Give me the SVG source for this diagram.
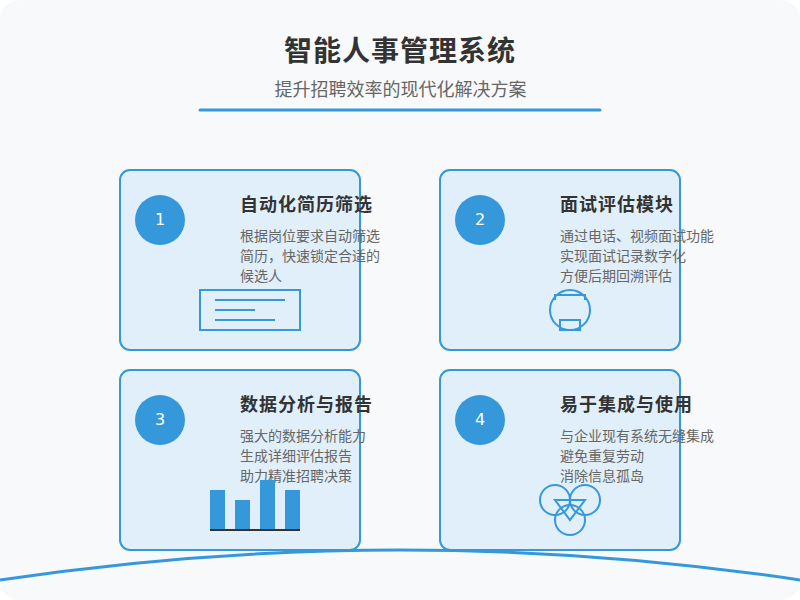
<svg xmlns="http://www.w3.org/2000/svg" width="800" height="600" viewBox="0 0 800 600">
<style>
text{font-family:"Liberation Sans","Noto Sans CJK SC",sans-serif}
.card{fill:#e1effb;stroke:#3498db;stroke-width:2}
.badge{fill:#3498db}
.num{fill:#fff;font-size:16px;text-anchor:middle;font-family:"DejaVu Sans",sans-serif}
.h{fill:#333;font-size:18px;font-weight:700;letter-spacing:1px}
.b{fill:#666;font-size:14px}
.ln{fill:none;stroke:#3498db;stroke-width:2}
.bar{fill:#3498db}
</style>
<rect width="800" height="600" fill="#fff"/>
<rect id="bg" width="800" height="600" rx="20" fill="#f8f9fa"/>
<g id="header">
<text x="400" y="61" font-size="28" font-weight="700" fill="#333" text-anchor="middle" letter-spacing="1">智能人事管理系统</text>
<text x="400.500" y="96" font-size="18" fill="#666" text-anchor="middle">提升招聘效率的现代化解决方案</text>
<line x1="200" y1="110" x2="600" y2="110" stroke="#3498db" stroke-width="3" stroke-linecap="round"/>
</g>
<g id="node1">
<rect class="card" x="120" y="170" width="240" height="180" rx="10"/>
<circle class="badge" cx="160" cy="220" r="25"/>
<text class="num" x="160" y="225">1</text>
<text class="h" x="240" y="211">自动化简历筛选</text>
<text class="b" x="240" y="241">根据岗位要求自动筛选</text>
<text class="b" x="240" y="261">简历，快速锁定合适的</text>
<text class="b" x="240" y="281">候选人</text>
<rect class="ln" x="200" y="290" width="100" height="40"/>
<path class="ln" d="M215 300H285M215 310H255M215 320H275"/>
</g>
<g id="node2">
<rect class="card" x="440" y="170" width="240" height="180" rx="10"/>
<circle class="badge" cx="480" cy="220" r="25"/>
<text class="num" x="480" y="225">2</text>
<text class="h" x="560" y="211">面试评估模块</text>
<text class="b" x="560" y="241">通过电话、视频面试功能</text>
<text class="b" x="560" y="261">实现面试记录数字化</text>
<text class="b" x="560" y="281">方便后期回溯评估</text>
<circle class="ln" cx="570" cy="310" r="20"/>
<path class="ln" d="M555 300V295H585V300"/>
<rect class="ln" x="560" y="320" width="20" height="10"/>
</g>
<g id="node3">
<rect class="card" x="120" y="370" width="240" height="180" rx="10"/>
<circle class="badge" cx="160" cy="420" r="25"/>
<text class="num" x="160" y="425">3</text>
<text class="h" x="240" y="411">数据分析与报告</text>
<text class="b" x="240" y="441">强大的数据分析能力</text>
<text class="b" x="240" y="461">生成详细评估报告</text>
<text class="b" x="240" y="481">助力精准招聘决策</text>
<rect class="bar" x="210" y="490" width="15" height="40"/>
<rect class="bar" x="235" y="500" width="15" height="30"/>
<rect class="bar" x="260" y="480" width="15" height="50"/>
<rect class="bar" x="285" y="490" width="15" height="40"/>
<line x1="210" y1="530" x2="300" y2="530" stroke="#333" stroke-width="2"/>
</g>
<g id="node4">
<rect class="card" x="440" y="370" width="240" height="180" rx="10"/>
<circle class="badge" cx="480" cy="420" r="25"/>
<text class="num" x="480" y="425">4</text>
<text class="h" x="560" y="411">易于集成与使用</text>
<text class="b" x="560" y="441">与企业现有系统无缝集成</text>
<text class="b" x="560" y="461">避免重复劳动</text>
<text class="b" x="560" y="481">消除信息孤岛</text>
<circle class="ln" cx="555" cy="500" r="15"/>
<circle class="ln" cx="585" cy="500" r="15"/>
<circle class="ln" cx="570" cy="520" r="15"/>
<path class="ln" d="M555 500H585L570 520Z"/>
</g>
<g id="connectors">
<path d="M0 580Q400 520 800 580" fill="none" stroke="#3498db" stroke-width="3"/>
</g>
</svg>
